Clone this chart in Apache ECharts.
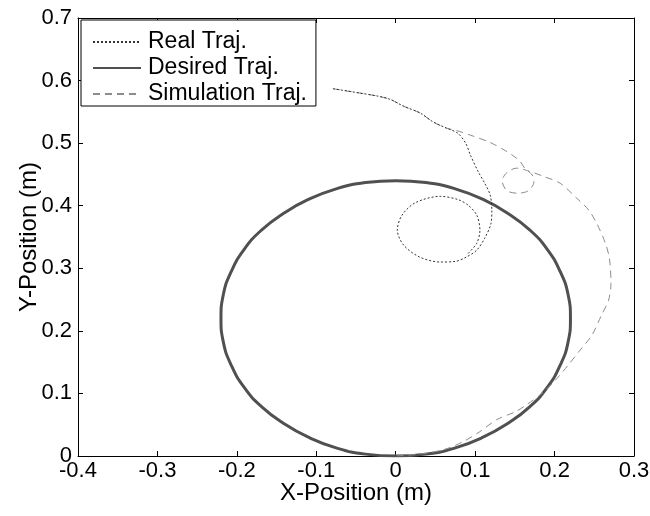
<!DOCTYPE html>
<html>
<head>
<meta charset="utf-8">
<script src="https://cdn.jsdelivr.net/npm/echarts@6/dist/echarts.min.js"></script>
<style>
  html, body { margin: 0; padding: 0; background: #fff; }
  #chart { width: 650px; height: 516px; }
</style>
</head>
<body>
<div id="chart"></div>
<script>
// axis ticks
const xTickLabels = ['-0.4', '-0.3', '-0.2', '-0.1', '0', '0.1', '0.2', '0.3'];
const yTickLabels = ['0', '0.1', '0.2', '0.3', '0.4', '0.5', '0.6', '0.7'];
const seriesNames = ['Real Traj.', 'Desired Traj.', 'Simulation Traj.'];

// desired trajectory (circle)
const desiredX = [0, 0.038, 0.075, 0.110, 0.141, 0.169, 0.191, 0.207, 0.217, 0.220, 0.217, 0.207, 0.191, 0.169, 0.141, 0.110, 0.075, 0.038, 0,
  -0.038, -0.075, -0.110, -0.141, -0.169, -0.191, -0.207, -0.217, -0.220, -0.217, -0.207, -0.191, -0.169, -0.141, -0.110, -0.075, -0.038, 0];
const desiredY = [0, 0.003, 0.013, 0.030, 0.052, 0.079, 0.110, 0.145, 0.182, 0.220, 0.258, 0.295, 0.330, 0.361, 0.388, 0.410, 0.427, 0.437, 0.440,
  0.437, 0.427, 0.410, 0.388, 0.361, 0.330, 0.295, 0.258, 0.220, 0.182, 0.145, 0.110, 0.079, 0.052, 0.030, 0.013, 0.003, 0];

// real trajectory: top arc, drop down, loop
const realX = [-0.079, -0.045, -0.022, -0.007, 0.010, 0.031, 0.047, 0.064, 0.078, 0.088, 0.094, 0.104, 0.112, 0.119, 0.121, 0.120, 0.112, 0.102, 0.089,
  0.075, 0.056, 0.030, 0.010, 0.002, 0.008, 0.025, 0.056, 0.078, 0.091, 0.102, 0.106, 0.102, 0.089];
const realY = [0.587, 0.580, 0.575, 0.570, 0.559, 0.548, 0.534, 0.524, 0.516, 0.500, 0.481, 0.454, 0.436, 0.417, 0.393, 0.372, 0.348, 0.329, 0.318,
  0.311, 0.310, 0.318, 0.337, 0.361, 0.385, 0.405, 0.415, 0.410, 0.401, 0.385, 0.361, 0.340, 0.321];

// simulation trajectory: top arc, small loop, wide right arc, back onto the circle
const simX = [-0.079, -0.045, -0.022, -0.007, 0.010, 0.031, 0.047, 0.064, 0.077, 0.098, 0.119, 0.138, 0.150, 0.157, 0.163,
  0.172, 0.174, 0.167, 0.154, 0.140, 0.134, 0.140, 0.152, 0.166, 0.188, 0.207, 0.228, 0.243, 0.253, 0.264, 0.269, 0.271,
  0.268, 0.259, 0.247, 0.232, 0.217, 0.203, 0.185, 0.166, 0.151, 0.127, 0.106, 0.085, 0.060, 0.030, 0];
const simY = [0.587, 0.580, 0.575, 0.570, 0.559, 0.548, 0.534, 0.524, 0.520, 0.511, 0.501, 0.488, 0.478, 0.470, 0.459,
  0.449, 0.438, 0.424, 0.420, 0.424, 0.440, 0.453, 0.460, 0.456, 0.446, 0.436, 0.412, 0.393, 0.372, 0.340, 0.316, 0.276,
  0.249, 0.225, 0.193, 0.169, 0.145, 0.124, 0.101, 0.083, 0.071, 0.058, 0.039, 0.023, 0.010, 0.003, 0];

const pairs = (xs, ys) => xs.map((x, i) => [x, ys[i]]);

const font = 'Liberation Sans, Arial, sans-serif';
const chart = echarts.init(document.getElementById('chart'));

const tickFmt = (labels, min, step) => v => labels[Math.round((v - min) / step)] ?? '';

const option = {
  animation: false,
  backgroundColor: '#fff',
  textStyle: { fontFamily: font, color: '#000' },
  grid: { left: 78, right: 16, top: 18, bottom: 60, outerBoundsMode: 'none', containLabel: false },
  legend: {
    orient: 'vertical',
    left: 81,
    top: 20,
    data: seriesNames,
    itemWidth: 48,
    itemHeight: 18,
    itemGap: 2,
    padding: [10, 9, 0, 11],
    backgroundColor: '#fff',
    borderColor: '#000',
    borderWidth: 1,
    borderRadius: 0,
    itemStyle: { opacity: 0 },
    textStyle: { fontFamily: font, fontSize: 23, lineHeight: 24, color: '#000', padding: [0, 0, 0, 2] }
  },
  xAxis: [{
    type: 'value', min: -0.4, max: 0.3, interval: 0.1,
    name: 'X-Position (m)', nameLocation: 'middle', nameGap: 25, nameMoveOverlap: false,
    nameTextStyle: { fontFamily: font, fontSize: 24, color: '#000', verticalAlign: 'top' },
    axisLine: { onZero: false, lineStyle: { color: '#000', width: 1 } },
    axisTick: { inside: true, length: 5, lineStyle: { color: '#000' } },
    axisLabel: { fontFamily: font, fontSize: 22, color: '#000', margin: 4, formatter: tickFmt(xTickLabels, -0.4, 0.1) },
    splitLine: { show: false }
  }, {
    type: 'value', position: 'top', min: -0.4, max: 0.3, interval: 0.1,
    axisLine: { onZero: false, lineStyle: { color: '#000', width: 1 } },
    axisTick: { inside: true, length: 5, lineStyle: { color: '#000' } },
    axisLabel: { show: false },
    splitLine: { show: false }
  }],
  yAxis: [{
    type: 'value', min: 0, max: 0.7, interval: 0.1,
    name: 'Y-Position (m)', nameLocation: 'middle', nameGap: 37, nameRotate: 90, nameMoveOverlap: false,
    nameTextStyle: { fontFamily: font, fontSize: 24, color: '#000' },
    axisLine: { show: true, onZero: false, lineStyle: { color: '#000', width: 1 } },
    axisTick: { show: true, inside: true, length: 5, lineStyle: { color: '#000' } },
    axisLabel: { fontFamily: font, fontSize: 22, color: '#000', margin: 6, formatter: tickFmt(yTickLabels, 0, 0.1) },
    splitLine: { show: false }
  }, {
    type: 'value', position: 'right', min: 0, max: 0.7, interval: 0.1,
    axisLine: { show: true, onZero: false, lineStyle: { color: '#000', width: 1 } },
    axisTick: { show: true, inside: true, length: 5, lineStyle: { color: '#000' } },
    axisLabel: { show: false },
    splitLine: { show: false }
  }],
  series: [{
    name: seriesNames[1], type: 'line', data: pairs(desiredX, desiredY),
    xAxisIndex: 0, yAxisIndex: 0,
    smooth: true, symbol: 'none', z: 2,
    itemStyle: { color: '#505050' },
    lineStyle: { color: '#505050', width: 3 }
  }, {
    name: seriesNames[2], type: 'line', data: pairs(simX, simY),
    xAxisIndex: 0, yAxisIndex: 0,
    smooth: 0.3, symbol: 'none', z: 3,
    itemStyle: { color: '#8c8c8c' },
    lineStyle: { color: '#8c8c8c', width: 1, type: [7, 5] }
  }, {
    name: seriesNames[0], type: 'line', data: pairs(realX, realY),
    xAxisIndex: 0, yAxisIndex: 0,
    smooth: 0.3, symbol: 'none', z: 4,
    itemStyle: { color: '#333' },
    lineStyle: { color: '#333', width: 1, type: [2, 2] }
  }]
};
chart.setOption(option);
</script>
</body>
</html>
